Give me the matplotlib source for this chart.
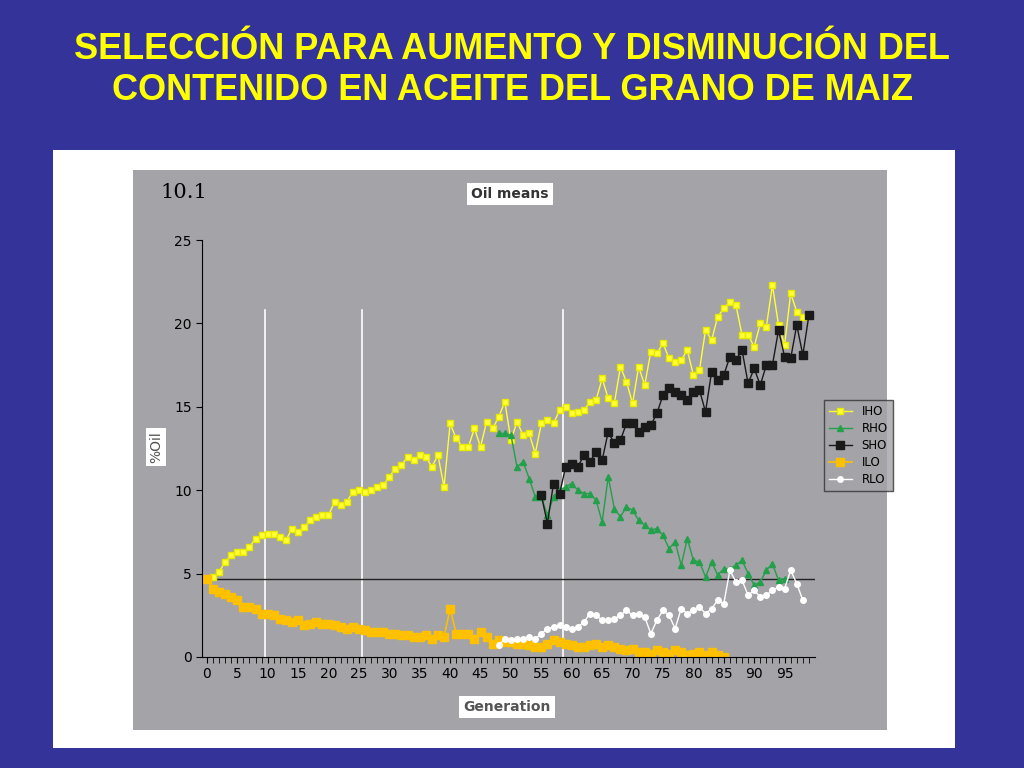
import matplotlib
matplotlib.use("Agg")
import matplotlib.pyplot as plt
from matplotlib.patches import Rectangle

iho = [4.7, 4.8, 5.1, 5.7, 6.1, 6.3, 6.3, 6.6, 7.1, 7.3, 7.4, 7.4, 7.2, 7.0, 7.7, 7.5, 7.8, 8.2, 8.4, 8.5,
       8.5, 9.3, 9.1, 9.3, 9.9, 10.0, 9.9, 10.0, 10.2, 10.3, 10.8, 11.3, 11.5, 12.0, 11.8, 12.1, 12.0, 11.4, 12.1, 10.2,
       14.0, 13.1, 12.6, 12.6, 13.7, 12.6, 14.1, 13.7, 14.4, 15.3, 13.0, 14.1, 13.3, 13.4, 12.2, 14.0, 14.2, 14.0, 14.8, 15.0,
       14.6, 14.7, 14.8, 15.3, 15.4, 16.7, 15.5, 15.2, 17.4, 16.5, 15.2, 17.4, 16.3, 18.3, 18.2, 18.8, 17.9, 17.7, 17.8, 18.4,
       16.9, 17.2, 19.6, 19.0, 20.4, 20.9, 21.3, 21.1, 19.3, 19.3, 18.6, 20.0, 19.8, 22.3, 19.9, 18.7, 21.8, 20.7, 20.4]
rho_start = 48
rho = [13.4, 13.4, 13.3, 11.4, 11.7, 10.7, 9.6, 9.6, 8.5, 9.6, 10.0, 10.2, 10.4, 10.0, 9.8, 9.8, 9.4, 8.1, 10.8, 8.9,
       8.4, 9.0, 8.8, 8.2, 7.9, 7.6, 7.7, 7.3, 6.5, 6.9, 5.5, 7.1, 5.8, 5.7, 4.8, 5.7, 4.9, 5.3, 5.3, 5.5,
       5.8, 5.0, 4.3, 4.5, 5.2, 5.6, 4.6, 4.7]
sho_start = 55
sho = [9.7, 8.0, 10.4, 9.8, 11.4, 11.6, 11.4, 12.1, 11.7, 12.3, 11.8, 13.5, 12.8, 13.0, 14.0, 14.0, 13.5, 13.8, 13.9, 14.6,
       15.7, 16.1, 15.9, 15.7, 15.4, 15.9, 16.0, 14.7, 17.1, 16.6, 16.9, 18.0, 17.8, 18.4, 16.4, 17.3, 16.3, 17.5, 17.5, 19.6,
       18.0, 17.9, 19.9, 18.1, 20.5]
ilo = [4.7, 4.1, 3.9, 3.8, 3.6, 3.4, 3.0, 3.0, 2.9, 2.6, 2.6, 2.5, 2.3, 2.2, 2.1, 2.2, 1.9, 2.0, 2.1, 2.0,
       2.0, 1.9, 1.8, 1.7, 1.8, 1.7, 1.6, 1.5, 1.5, 1.5, 1.4, 1.4, 1.3, 1.3, 1.2, 1.2, 1.3, 1.1, 1.3, 1.2,
       2.9, 1.4, 1.4, 1.4, 1.1, 1.5, 1.2, 0.8, 1.0, 0.9, 0.9, 0.8, 0.8, 0.7, 0.6, 0.6, 0.8, 1.0, 0.9, 0.8,
       0.7, 0.6, 0.6, 0.7, 0.8, 0.6, 0.7, 0.6, 0.5, 0.4, 0.5, 0.3, 0.3, 0.2, 0.4, 0.3, 0.2, 0.4, 0.3, 0.1,
       0.2, 0.3, 0.1, 0.3, 0.1, 0.0]
rlo_start = 48
rlo = [0.7, 1.1, 1.0, 1.1, 1.1, 1.2, 1.1, 1.4, 1.7, 1.8, 1.9, 1.8, 1.7, 1.8, 2.1, 2.6, 2.5, 2.2, 2.2, 2.3,
       2.5, 2.8, 2.5, 2.6, 2.4, 1.4, 2.2, 2.8, 2.5, 1.7, 2.9, 2.6, 2.8, 3.0, 2.6, 2.9, 3.4, 3.2, 5.2, 4.5,
       4.6, 3.7, 4.0, 3.6, 3.7, 4.0, 4.2, 4.1, 5.2, 4.4, 3.4]
vlines = [9.5, 25.5, 58.5]
base_level = 4.7

BLUE = "#333399"
GRAY = "#A3A3A8"

fig = plt.figure(figsize=(10.24, 7.68), dpi=100, facecolor=BLUE)

# background panels in their own axes, drawn below the chart
bg = fig.add_axes([0, 0, 1, 1], zorder=-1)
bg.set_xlim(0, 1024)
bg.set_ylim(768, 0)
bg.axis("off")
bg.add_patch(Rectangle((53, 150), 902, 598, facecolor="white", edgecolor="none"))
bg.add_patch(Rectangle((133, 170), 754, 560, facecolor=GRAY, edgecolor="none"))

fig.text(0.5, 1 - 70 / 768, "SELECCIÓN PARA AUMENTO Y DISMINUCIÓN DEL\nCONTENIDO EN ACEITE DEL GRANO DE MAIZ",
         ha="center", va="center", color="#FFFF00", fontsize=26, fontweight="bold",
         family="Liberation Sans", linespacing=1.2)

ax = fig.add_axes([202 / 1024, 111 / 768, 613 / 1024, 417 / 768])
ax.set_facecolor("none")
ax.set_xlim(-0.8, 100)
ax.set_ylim(0, 25)
for s in ["top", "right"]:
    ax.spines[s].set_visible(False)
ax.set_xticks(range(0, 96, 5))
ax.set_xticks(range(0, 100), minor=True)
ax.set_yticks(range(0, 26, 5))
ax.tick_params(labelsize=10, length=4, direction="out")
ax.tick_params(axis="x", which="minor", length=4)

for x in vlines:
    ax.plot([x, x], [0, 20.8], color="white", lw=1.2, zorder=1)
ax.plot([-0.8, 100], [base_level, base_level], color="#222222", lw=1, zorder=1)

ms = dict(markersize=4, lw=1)
ax.plot(range(len(iho)), iho, color="#FFFF33", marker="s", label="IHO", markeredgecolor="#E8E800", **ms)
ax.plot(range(rho_start, rho_start + len(rho)), rho, color="#22A04A", marker="^", label="RHO", **ms)
ax.plot(range(sho_start, sho_start + len(sho)), sho, color="#1A1A1A", marker="s", label="SHO",
        markersize=5.5, lw=1)
ax.plot(range(len(ilo)), ilo, color="#FFC000", marker="s", label="ILO", markersize=5.5, lw=1.2)
ax.plot(range(rlo_start, rlo_start + len(rlo)), rlo, color="white", marker="o", label="RLO", **ms)

leg = ax.legend(loc="upper left", bbox_to_anchor=(1.005, 0.63), fontsize=8.5, frameon=True,
                fancybox=False, edgecolor="#333333", facecolor=GRAY, handlelength=2,
                labelspacing=0.35, borderpad=0.4)
leg.get_frame().set_linewidth(1)

fig.text(160 / 1024, 1 - 192 / 768, "10.1", family="DejaVu Serif", fontsize=15, va="center")
fig.text(510 / 1024, 1 - 194 / 768, "Oil means", ha="center", va="center", fontsize=10,
         fontweight="bold", color="#333333", bbox=dict(facecolor="white", edgecolor="none", pad=3))
fig.text(507 / 1024, 1 - 707 / 768, "Generation", ha="center", va="center", fontsize=10,
         fontweight="bold", color="#555555", bbox=dict(facecolor="white", edgecolor="none", pad=3))
fig.text(156 / 1024, 1 - 447 / 768, "%Oil", ha="center", va="center", fontsize=10, rotation=90,
         color="#555555", bbox=dict(facecolor="white", edgecolor="none", pad=2))

fig.savefig("out.png", dpi=100, facecolor=BLUE)
